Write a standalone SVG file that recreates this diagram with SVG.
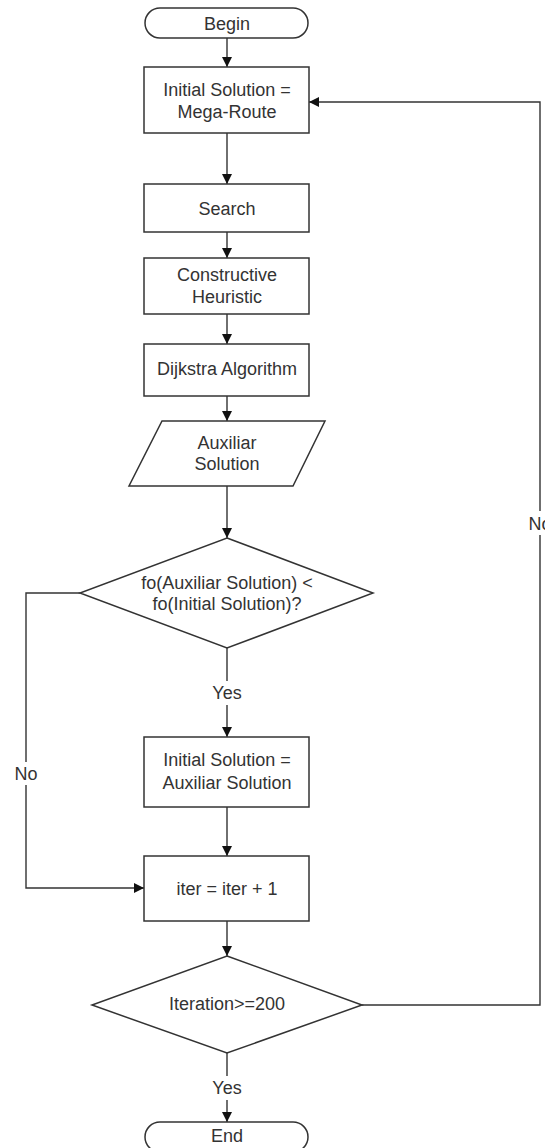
<svg xmlns="http://www.w3.org/2000/svg" width="545" height="1148" viewBox="0 0 545 1148">
  <style>
    .shape { fill: #ffffff; stroke: #333333; stroke-width: 1.5; }
    .conn { fill: none; stroke: #333333; stroke-width: 1.4; }
    .label { font-family: "Liberation Sans", Arial, sans-serif; font-size: 18px; fill: #333333; text-anchor: middle; }
    .tag { font-family: "Liberation Sans", Arial, sans-serif; font-size: 18px; fill: #333333; text-anchor: middle; }
  </style>
  <defs>
    <marker id="arrow" viewBox="0 0 10 10" refX="10" refY="5" markerWidth="10" markerHeight="10" markerUnits="userSpaceOnUse" orient="auto">
      <path d="M0,0 L10,5 L0,10 Z" fill="#111111"/>
    </marker>
  </defs>
  <rect width="545" height="1148" fill="#ffffff"/>

  <!-- connectors -->
  <g id="connectors">
    <path class="conn" d="M227,38 L227,67" marker-end="url(#arrow)"/>
    <path class="conn" d="M227,133 L227,184" marker-end="url(#arrow)"/>
    <path class="conn" d="M227,232 L227,258" marker-end="url(#arrow)"/>
    <path class="conn" d="M227,314 L227,344" marker-end="url(#arrow)"/>
    <path class="conn" d="M227,396 L227,421" marker-end="url(#arrow)"/>
    <path class="conn" d="M227,486 L227,538" marker-end="url(#arrow)"/>
    <path class="conn" d="M227,648 L227,681"/>
    <path class="conn" d="M227,705 L227,737" marker-end="url(#arrow)"/>
    <text class="tag" x="227" y="698.5">Yes</text>
    <path class="conn" d="M227,807 L227,856" marker-end="url(#arrow)"/>
    <path class="conn" d="M80,593 L26,593 L26,762"/>
    <path class="conn" d="M26,785 L26,888 L144,888" marker-end="url(#arrow)"/>
    <text class="tag" x="26" y="779.5">No</text>
    <path class="conn" d="M227,921 L227,956" marker-end="url(#arrow)"/>
    <path class="conn" d="M227,1053 L227,1076"/>
    <path class="conn" d="M227,1100 L227,1122" marker-end="url(#arrow)"/>
    <text class="tag" x="227" y="1093.5">Yes</text>
    <path class="conn" d="M362,1005 L540,1005 L540,535"/>
    <path class="conn" d="M540,511 L540,102 L309,102" marker-end="url(#arrow)"/>
    <text class="tag" x="540" y="529.5">No</text>
  </g>

  <g id="begin">
    <rect class="shape" x="145" y="8" width="163" height="30" rx="15" ry="15"/>
    <text class="label" x="227" y="29.5">Begin</text>
  </g>

  <g id="initial-solution">
    <rect class="shape" x="144" y="67" width="165" height="66"/>
    <text class="label" x="227" y="95.5">Initial Solution =</text>
    <text class="label" x="227" y="117.5">Mega-Route</text>
  </g>

  <g id="search">
    <rect class="shape" x="144" y="184" width="165" height="48"/>
    <text class="label" x="227" y="214.5">Search</text>
  </g>

  <g id="constructive-heuristic">
    <rect class="shape" x="144" y="258" width="165" height="56"/>
    <text class="label" x="227" y="280.5">Constructive</text>
    <text class="label" x="227" y="302.5">Heuristic</text>
  </g>

  <g id="dijkstra">
    <rect class="shape" x="144" y="344" width="165" height="52"/>
    <text class="label" x="227" y="374.5">Dijkstra Algorithm</text>
  </g>

  <g id="auxiliar-solution">
    <polygon class="shape" points="162,421 325,421 293,486 129,486"/>
    <text class="label" x="227" y="448.5">Auxiliar</text>
    <text class="label" x="227" y="469.5">Solution</text>
  </g>

  <g id="compare">
    <polygon class="shape" points="227,538 373,593 227,648 80,593"/>
    <text class="label" x="227" y="588.5">fo(Auxiliar Solution) &lt;</text>
    <text class="label" x="227" y="609.5">fo(Initial Solution)?</text>
  </g>

  <g id="update-solution">
    <rect class="shape" x="144" y="737" width="165" height="70"/>
    <text class="label" x="227" y="765.5">Initial Solution =</text>
    <text class="label" x="227" y="788.5">Auxiliar Solution</text>
  </g>

  <g id="increment">
    <rect class="shape" x="144" y="856" width="165" height="65"/>
    <text class="label" x="227" y="894.5">iter = iter + 1</text>
  </g>

  <g id="stop-check">
    <polygon class="shape" points="227,956 362,1005 227,1053 92,1005"/>
    <text class="label" x="227" y="1009.5">Iteration&gt;=200</text>
  </g>

  <g id="end">
    <rect class="shape" x="145" y="1122" width="163" height="30" rx="15" ry="15"/>
    <text class="label" x="227" y="1141.5">End</text>
  </g>
</svg>
